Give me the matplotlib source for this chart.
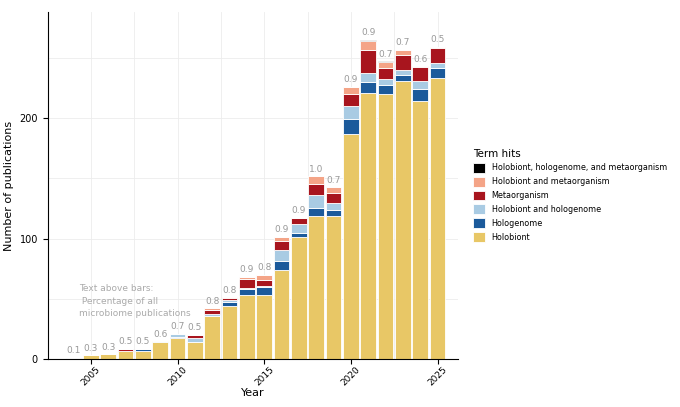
import matplotlib.pyplot as plt
import numpy as np

years = np.arange(2004, 2026)
holobiont = [1, 3, 4, 7, 7, 14.5, 17.5, 14, 36, 44, 53, 53, 74, 101, 119, 118.7, 187, 221, 220, 231, 214.6, 233]
hologenome = [0, 0, 0, 0, 1, 0, 1, 0.5, 0, 3.5, 5, 7, 7.5, 4, 6.6, 5, 12.4, 9, 7.4, 5, 9.6, 9]
holo_hologenome = [0, 0, 0, 0, 0.5, 0.5, 2.5, 3, 1, 1.5, 1, 1, 9, 7, 10.7, 5.5, 11, 7.7, 5.5, 4, 7, 4]
metaorganism = [0, 0, 0, 1.5, 0, 0, 0, 2, 4, 1.5, 7.7, 5, 7.7, 4.7, 9, 8.3, 9.6, 18.5, 8.5, 12.7, 11, 12.4]
holo_meta = [0, 0, 0, 0, 0, 0, 0, 0.5, 1, 1, 1.5, 4, 3.3, 0.5, 6.3, 5, 6, 8, 5, 4, 1, 1]
all_three = [0, 0, 0, 0, 0, 0, 0, 0, 0, 0, 0, 0, 0, 0, 0, 0, 0, 1, 1, 0, 0, 0]
pct_labels = ["0.1", "0.3", "0.3", "0.5", "0.5", "0.6", "0.7", "0.5", "0.8", "0.8", "0.9", "0.8",
              "0.9", "0.9", "1.0", "0.7", "0.9", "0.9", "0.7", "0.7", "0.6", "0.5"]

series = [
    ("Holobiont", holobiont, "#E8C766"),
    ("Hologenome", hologenome, "#1B5A9B"),
    ("Holobiont and hologenome", holo_hologenome, "#A9CBE3"),
    ("Metaorganism", metaorganism, "#A8151E"),
    ("Holobiont and metaorganism", holo_meta, "#F4A487"),
    ("Holobiont, hologenome, and metaorganism", all_three, "#000000"),
]

fig = plt.figure(figsize=(6.8, 4.07), dpi=100)
ax = fig.add_axes([0.07, 0.118, 0.604, 0.852])

bottom = np.zeros(len(years))
handles = []
for name, vals, col in series:
    b = ax.bar(years, vals, bottom=bottom, width=0.9, color=col, edgecolor="white", linewidth=0.6, label=name)
    handles.append(b)
    bottom += np.array(vals)

for x, top, lab in zip(years, bottom, pct_labels):
    ax.text(x, top + 2, lab, ha="center", va="bottom", fontsize=6.5, color="#999999")

ax.text(2004.3, 62, "Text above bars:\n Percentage of all\nmicrobiome publications", fontsize=6.5,
        color="#aaaaaa", va="top", linespacing=1.5)

ax.set_xlim(2002.6, 2026.2)
ax.set_ylim(0, 288)
ax.set_xticks([2005, 2010, 2015, 2020, 2025])
ax.set_yticks([0, 100, 200])
ax.tick_params(axis="x", labelrotation=45, labelsize=6.5, pad=1)
ax.tick_params(axis="y", labelsize=7)
ax.set_xticks(np.arange(2002.5, 2027, 2.5), minor=True)
ax.set_yticks([50, 150, 250], minor=True)
ax.tick_params(which="minor", length=0)
ax.grid(True, which="both", color="#ececec", linewidth=0.6)
ax.set_axisbelow(True)
for s in ["top", "right"]:
    ax.spines[s].set_visible(False)
ax.set_xlabel("Year", fontsize=8, labelpad=0)
ax.set_ylabel("Number of publications", fontsize=8)

leg = fig.legend(handles[::-1], [s[0] for s in series][::-1], title="Term hits",
                 loc="center left", bbox_to_anchor=(0.685, 0.52), frameon=False,
                 fontsize=5.8, title_fontsize=7.5, handlelength=1.5, handleheight=1.5)
leg._legend_box.align = "left"

fig.savefig("out.png", dpi=100)
